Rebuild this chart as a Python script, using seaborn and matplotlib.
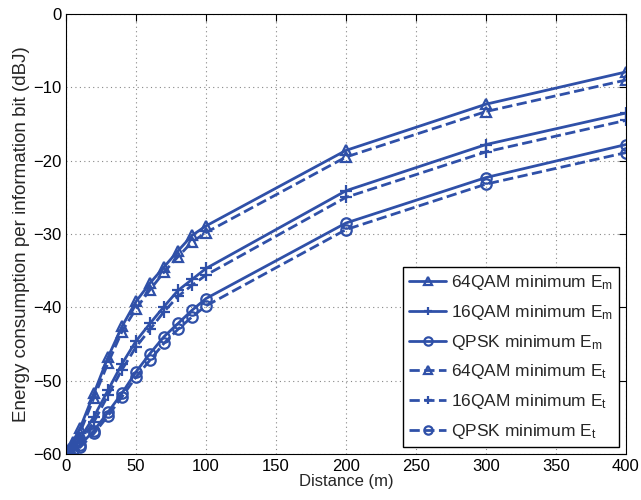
import numpy as np
import pandas as pd
import matplotlib
matplotlib.use("Agg")
import matplotlib.pyplot as plt
import seaborn as sns

distance = [0, 2, 5, 10, 20, 30, 40, 50, 60, 70, 80, 90, 100, 200, 300, 400]

qam64_em = [-60, -59.3, -58.3, -56.5, -51.7, -46.8, -42.6, -39.2, -36.7, -34.5, -32.3, -30.2, -28.9, -18.6, -12.3, -7.9]
qam64_et = [-60, -59.5, -58.7, -57.1, -52.3, -47.6, -43.3, -40.2, -37.6, -35.2, -33.1, -31.1, -29.8, -19.5, -13.3, -9.0]
qam16_em = [-60, -59.6, -59.0, -57.9, -54.9, -51.3, -47.7, -44.6, -42.2, -39.9, -37.7, -36.2, -34.7, -24.1, -17.8, -13.5]
qam16_et = [-60, -59.7, -59.2, -58.3, -55.6, -52.0, -48.5, -45.4, -43.0, -40.6, -38.5, -37.0, -35.6, -25.0, -18.8, -14.5]
qpsk_em = [-60, -59.8, -59.4, -58.8, -56.8, -54.3, -51.7, -48.8, -46.3, -44.0, -42.2, -40.4, -38.8, -28.5, -22.3, -17.8]
qpsk_et = [-60, -59.8, -59.5, -59.1, -57.2, -54.8, -52.2, -49.5, -47.2, -44.9, -43.0, -41.3, -39.8, -29.4, -23.2, -18.9]

series = [
    (r"64QAM minimum E$_\mathrm{m}$", qam64_em, "-", "^"),
    (r"16QAM minimum E$_\mathrm{m}$", qam16_em, "-", "+"),
    (r"QPSK minimum E$_\mathrm{m}$", qpsk_em, "-", "o"),
    (r"64QAM minimum E$_\mathrm{t}$", qam64_et, "--", "^"),
    (r"16QAM minimum E$_\mathrm{t}$", qam16_et, "--", "+"),
    (r"QPSK minimum E$_\mathrm{t}$", qpsk_et, "--", "o"),
]

sns.set_style("white")
plt.rcParams["font.family"] = ["Liberation Sans", "DejaVu Sans"]
plt.rcParams["mathtext.fontset"] = "custom"
plt.rcParams["mathtext.rm"] = "Liberation Sans"
plt.rcParams["mathtext.it"] = "Liberation Sans:italic"

color = "#2F50A8"

fig = plt.figure(figsize=(6.41, 5.0), dpi=100)
ax = fig.add_axes([66 / 641, 46 / 500, 560 / 641, 440 / 500])

for label, vals, ls, mk in series:
    df = pd.DataFrame({"Distance": distance, "E": vals})
    sns.lineplot(
        data=df, x="Distance", y="E", ax=ax,
        color=color, linestyle=ls, linewidth=2, marker=mk,
        markersize=7.5 if mk != "+" else 8.5, markerfacecolor="none",
        markeredgecolor=color, markeredgewidth=1.6, label=label,
    )

ax.set_xlim(0, 400)
ax.set_ylim(-60, 0)
ax.set_xticks(np.arange(0, 401, 50))
ax.set_yticks(np.arange(-60, 1, 10))
ax.set_yticklabels(["\u221260", "\u221250", "\u221240", "\u221230", "\u221220", "\u221210", "0"])
ax.grid(True, linestyle=(0, (1, 3)), color="#888888", linewidth=0.8)
ax.tick_params(direction="in", top=True, right=True, length=5, labelsize=12, colors="black")
for s in ax.spines.values():
    s.set_color("black")
    s.set_linewidth(0.8)

ax.set_xlabel("Distance (m)", fontsize=12, labelpad=0)
ax.set_ylabel("Energy consumption per information bit (dBJ)", fontsize=13.5, labelpad=2)

leg = ax.legend(loc="lower right", fontsize=12.5, frameon=True, fancybox=False,
                edgecolor="black", framealpha=1, handlelength=2.1,
                labelspacing=0.62, borderaxespad=0.4, handletextpad=0.3,
                borderpad=0.35)
leg.get_frame().set_linewidth(1.0)
for h in leg.legend_handles:
    h.set_markersize(6)

fig.savefig("out.png", dpi=100)
